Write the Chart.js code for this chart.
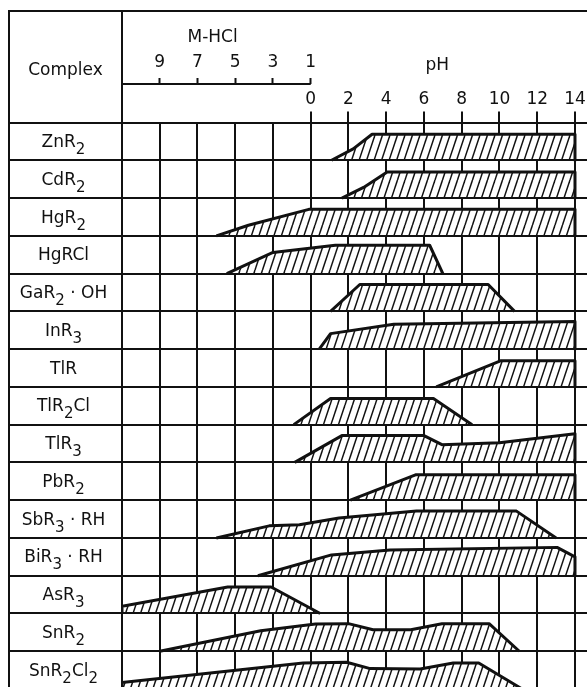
<!DOCTYPE html>
<html>
<head>
<meta charset="utf-8">
<script src="https://cdn.jsdelivr.net/npm/chart.js@4.4.0/dist/chart.umd.min.js"></script>
<style>
  html, body { margin: 0; padding: 0; background: #fff; overflow: hidden; }
  canvas { display: block; }
</style>
</head>
<body>
<canvas id="c" width="600" height="689"></canvas>
<script>
// rows, top to bottom ("_n" = subscript)
const complexes = ['ZnR_2', 'CdR_2', 'HgR_2', 'HgRCl', 'GaR_2 · OH', 'InR_3', 'TlR', 'TlR_2Cl',
  'TlR_3', 'PbR_2', 'SbR_3 · RH', 'BiR_3 · RH', 'AsR_3', 'SnR_2', 'SnR_2Cl_2'];

// x runs as pH for x >= 0; left of 0 is the M-HCl scale (1 M sits on pH 0)
const hclTicks  = [-8, -6, -4, -2, 0];
const hclLabels = ['9', '7', '5', '3', '1'];
const gridTicks = [-10, -8, -6, -4, -2, 0, 2, 4, 6, 8, 10, 12, 14];
const rowLines  = [0, 1, 2, 3, 4, 5, 6, 7, 8, 9, 10, 11, 12, 13, 14, 15];

// extraction band outlines: [x, height as part of the row]
const zn    = [[1.1, 0], [2.25, 0.3], [3.25, 0.69], [14, 0.69], [14, 0]];
const cd    = [[1.65, 0], [2.8, 0.28], [4.05, 0.69], [14, 0.69], [14, 0]];
const hg    = [[-5, 0], [-3.3, 0.28], [-0.1, 0.7], [14, 0.7], [14, 0]];
const hgcl  = [[-4.45, 0], [-2.0, 0.56], [1.3, 0.75], [6.3, 0.75], [7.0, 0]];
const ga    = [[1.05, 0], [2.6, 0.71], [9.4, 0.71], [10.8, 0]];
const inr   = [[0.45, 0], [1.05, 0.41], [4.4, 0.66], [14, 0.73], [14, 0]];
const tl    = [[6.65, 0], [10.05, 0.69], [14, 0.69], [14, 0]];
const tl2cl = [[-0.9, 0], [1.05, 0.69], [6.5, 0.69], [8.55, 0]];
const tl3   = [[-0.85, 0], [1.65, 0.71], [6.0, 0.71], [6.95, 0.47], [10, 0.52], [14, 0.76], [14, 0]];
const pb    = [[2.1, 0], [5.55, 0.67], [14, 0.67], [14, 0]];
const sb    = [[-5, 0], [-2.2, 0.32], [-0.6, 0.35], [1.5, 0.53], [5.6, 0.71], [10.9, 0.71], [13, 0]];
const bi    = [[-2.8, 0], [1.1, 0.55], [4.2, 0.68], [13.05, 0.75], [14, 0.5], [14, 0]];
const asr   = [[-10, 0], [-10, 0.19], [-4.4, 0.7], [-2.1, 0.7], [0.5, 0]];
const sn    = [[-8, 0], [-2.65, 0.54], [0.25, 0.72], [2.0, 0.73], [3.3, 0.57], [5.3, 0.57], [6.95, 0.73], [9.45, 0.73], [11.05, 0]];
const sncl  = [[-10, 0], [-10, 0.17], [-0.4, 0.69], [1.9, 0.71], [3.15, 0.54], [5.8, 0.53], [7.55, 0.69], [8.9, 0.69], [11.2, 0]];
const bands = [zn, cd, hg, hgcl, ga, inr, tl, tl2cl, tl3, pb, sb, bi, asr, sn, sncl];

const INK = '#111';
const FONT = '"DejaVu Sans", sans-serif';
Chart.defaults.font.family = FONT;
Chart.defaults.font.size = 17;
Chart.defaults.color = INK;

function hatch() {
  const t = document.createElement('canvas');
  t.width = 15; t.height = 45;
  const g = t.getContext('2d');
  g.fillStyle = '#fff'; g.fillRect(0, 0, 15, 45);
  g.strokeStyle = INK; g.lineWidth = 1.5;
  for (const o of [-15, -7.5, 0, 7.5, 15]) {
    g.beginPath(); g.moveTo(o, 45); g.lineTo(o + 15, 0); g.stroke();
  }
  return g.createPattern(t, 'repeat');
}

function drawRich(ctx, s, cx, base) {
  const parts = s.split(/_(\d)/);
  const big = '17px ' + FONT, small = '15px ' + FONT;
  let w = 0;
  parts.forEach((p, k) => { ctx.font = k % 2 ? small : big; w += ctx.measureText(p).width; });
  let x = cx - w / 2;
  ctx.textAlign = 'left'; ctx.textBaseline = 'alphabetic';
  parts.forEach((p, k) => {
    ctx.font = k % 2 ? small : big;
    ctx.fillText(p, x, k % 2 ? base + 7 : base);
    x += ctx.measureText(p).width;
  });
}

const frame = {
  id: 'frame',
  afterDraw(chart) {
    const { ctx, scales: { x, x2, y } } = chart;
    const left = y.right - 113, top = 11;
    ctx.save();
    ctx.strokeStyle = INK; ctx.lineWidth = 2;
    ctx.beginPath();
    ctx.moveTo(left, chart.height); ctx.lineTo(left, top); ctx.lineTo(chart.width, top);
    ctx.moveTo(y.right, top); ctx.lineTo(y.right, y.top);
    ctx.moveTo(x.getPixelForValue(-10), x2.bottom); ctx.lineTo(x.getPixelForValue(0), x2.bottom);
    ctx.stroke();

    ctx.fillStyle = INK;
    ctx.textAlign = 'center'; ctx.textBaseline = 'alphabetic';
    ctx.font = '17px ' + FONT;
    ctx.fillText('Complex', (left + y.right) / 2, 75);
    ctx.fillText('M-HCl', x.getPixelForValue(-5.2), 41.5);
    ctx.fillText('pH', x.getPixelForValue(6.7), 70);

    complexes.forEach((c, i) => drawRich(ctx, c, (left + y.right) / 2 - 2, y.getPixelForValue(i + 0.65)));
    ctx.restore();
  }
};

const pat = hatch();

new Chart(document.getElementById('c'), {
  type: 'line',
  data: {
    datasets: bands.map((b, i) => ({
      data: b.map(p => ({ x: p[0], y: i + 1 - p[1] })),
      borderColor: INK,
      borderWidth: 3,
      borderJoinStyle: 'round',
      backgroundColor: pat,
      fill: { value: i + 1 },
      pointRadius: 0,
      tension: 0
    }))
  },
  options: {
    animation: false,
    responsive: false,
    layout: { padding: { top: 52, left: 0, right: 0, bottom: 0 } },
    plugins: { legend: { display: false }, tooltip: { enabled: false } },
    scales: {
      x: {
        type: 'linear', position: 'top', min: -10, max: 15.325,
        afterBuildTicks: s => { s.ticks = gridTicks.map(v => ({ value: v })); },
        afterFit: s => { s.height = 38.5; },
        ticks: { autoSkip: false, maxRotation: 0, padding: 2, color: INK,
                 callback: v => v >= 0 ? String(v) : '' },
        grid: { color: INK, lineWidth: 2, tickLength: 11, tickWidth: 2,
                tickColor: c => (c.tick && c.tick.value >= 0) ? INK : 'rgba(0,0,0,0)' },
        border: { color: INK, width: 2 }
      },
      x2: {
        type: 'linear', position: 'top', weight: 1, min: -10, max: 15.325,
        afterBuildTicks: s => { s.ticks = hclTicks.map(v => ({ value: v })); },
        afterFit: s => { s.height = 32; },
        ticks: { autoSkip: false, maxRotation: 0, padding: 5.5, color: INK,
                 callback: v => hclLabels[hclTicks.indexOf(v)] },
        grid: { drawOnChartArea: false, tickLength: 6, tickWidth: 2, tickColor: INK },
        border: { display: false }
      },
      y: {
        type: 'linear', reverse: true, min: 0, max: 15,
        afterBuildTicks: s => { s.ticks = rowLines.map(v => ({ value: v })); },
        afterFit: s => { s.width = 122; },
        ticks: { display: false },
        grid: { color: INK, lineWidth: 2, tickLength: 113, z: 1 },
        border: { color: INK, width: 2, z: 1 }
      }
    }
  },
  plugins: [frame]
});
</script>
</body>
</html>
